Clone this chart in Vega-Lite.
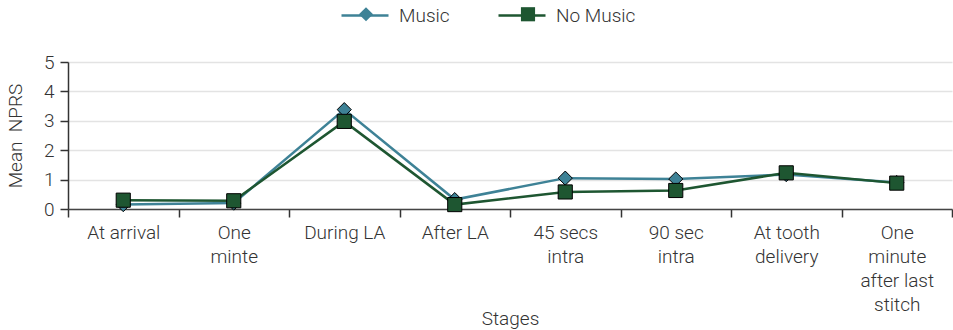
{
  "$schema": "https://vega.github.io/schema/vega-lite/v6.json",
  "width": 884,
  "height": 147,
  "autosize": {"type": "none"},
  "padding": {"left": 68, "top": 62, "right": 1, "bottom": 121},
  "background": "white",
  "config": {
    "font": "Roboto",
    "view": {"stroke": null},
    "axis": {"labelFont": "Roboto", "titleFont": "Roboto", "labelFontWeight": 300, "titleFontWeight": 300, "labelColor": "#333", "titleColor": "#333"},
    "legend": {"labelFont": "Roboto", "labelFontWeight": 300}
  },
  "data": {
    "values": [
      {"stage": "At arrival", "series": "Music", "group": "Music", "value": 0.15},
      {"stage": "One\nminte", "series": "Music", "group": "Music", "value": 0.2},
      {"stage": "During LA", "series": "Music", "group": "Music", "value": 3.38},
      {"stage": "After LA", "series": "Music", "group": "Music", "value": 0.32},
      {"stage": "45 secs\nintra", "series": "Music", "group": "Music", "value": 1.05},
      {"stage": "90 sec\nintra", "series": "Music", "group": "Music", "value": 1.02},
      {"stage": "At tooth\ndelivery", "series": "Music", "group": "Music", "value": 1.17},
      {"stage": "One\nminute\nafter last\nstitch", "series": "Music", "group": "Music", "value": 0.9},
      {"stage": "At arrival", "series": "No Music", "group": "No Music", "value": 0.3},
      {"stage": "One\nminte", "series": "No Music", "group": "No Music", "value": 0.28},
      {"stage": "During LA", "series": "No Music", "group": "No Music", "value": 2.98},
      {"stage": "After LA", "series": "No Music", "group": "No Music", "value": 0.15},
      {"stage": "45 secs\nintra", "series": "No Music", "group": "No Music", "value": 0.58},
      {"stage": "90 sec\nintra", "series": "No Music", "group": "No Music", "value": 0.63},
      {"stage": "At tooth\ndelivery", "series": "No Music", "group": "No Music", "value": 1.23},
      {"stage": "One\nminute\nafter last\nstitch", "series": "No Music", "group": "No Music", "value": 0.88}
    ]
  },
  "encoding": {
    "x": {
      "field": "stage",
      "type": "nominal",
      "sort": null,
      "bandPosition": 0.5,
      "scale": {"type": "band", "paddingInner": 0, "paddingOuter": 0},
      "axis": {
        "title": "Stages",
        "labelAngle": 0,
        "labelExpr": "split(datum.label, '\\n')",
        "tickBand": "extent",
        "tickSize": 8,
        "tickWidth": 1.5,
        "tickColor": "#333",
        "domainColor": "#444",
        "domainWidth": 1.5,
        "labelPadding": 6,
        "labelLineHeight": 24,
        "labelFontSize": 19,
        "labelBaseline": "top",
        "grid": false,
        "titleFontSize": 19,
        "titleY": 109,
        "titleBaseline": "middle"
      }
    },
    "y": {
      "field": "value",
      "type": "quantitative",
      "scale": {"domain": [0, 5], "nice": false},
      "axis": {
        "title": "Mean\u00a0\u00a0NPRS",
        "values": [0, 1, 2, 3, 4, 5],
        "tickSize": 8,
        "tickWidth": 1.5,
        "tickColor": "#333",
        "domainColor": "#333",
        "domainWidth": 1.5,
        "labelPadding": 6,
        "labelFontSize": 19,
        "gridColor": "#e3e3e3",
        "gridWidth": 1.5,
        "titleFontSize": 19,
        "titleX": -53,
        "titleY": 73.5,
        "titleAngle": -90,
        "titleAlign": "center",
        "titleBaseline": "middle"
      }
    }
  },
  "layer": [
    {
      "mark": {"type": "line", "strokeWidth": 2.5},
      "encoding": {
        "color": {
          "field": "series",
          "type": "nominal",
          "sort": null,
          "scale": {"domain": ["Music", "No Music"], "range": ["#3E8296", "#1E5631"]},
          "legend": {
            "title": null,
            "orient": "none",
            "direction": "horizontal",
            "legendX": 272,
            "legendY": -71.5,
            "padding": 0,
            "symbolType": "stroke",
            "symbolSize": 2209,
            "symbolStrokeWidth": 2.5,
            "labelOffset": 9,
            "columnPadding": 43,
            "labelFontSize": 19,
            "labelColor": "#333"
          }
        }
      }
    },
    {
      "mark": {"type": "point", "filled": true, "stroke": "black", "strokeWidth": 1, "size": 200, "opacity": 1},
      "encoding": {
        "fill": {
          "field": "group",
          "type": "nominal",
          "sort": null,
          "scale": {"range": ["#3E8296", "#1E5631"]},
          "legend": {
            "title": null,
            "orient": "none",
            "direction": "horizontal",
            "legendX": 288.5,
            "legendY": -57.5,
            "padding": 0,
            "symbolSize": 200,
            "symbolStrokeColor": "black",
            "symbolStrokeWidth": 1,
            "labelOffset": 0,
            "labelExpr": "''",
            "columnPadding": 143,
            "labelFontSize": 19
          }
        },
        "shape": {
          "field": "group",
          "type": "nominal",
          "sort": null,
          "scale": {"range": ["diamond", "square"]},
          "legend": {
            "title": null,
            "orient": "none",
            "direction": "horizontal",
            "legendX": 288.5,
            "legendY": -57.5,
            "padding": 0,
            "symbolSize": 200,
            "symbolStrokeColor": "black",
            "symbolStrokeWidth": 1,
            "labelOffset": 0,
            "labelExpr": "''",
            "columnPadding": 143,
            "labelFontSize": 19
          }
        }
      }
    }
  ]
}
